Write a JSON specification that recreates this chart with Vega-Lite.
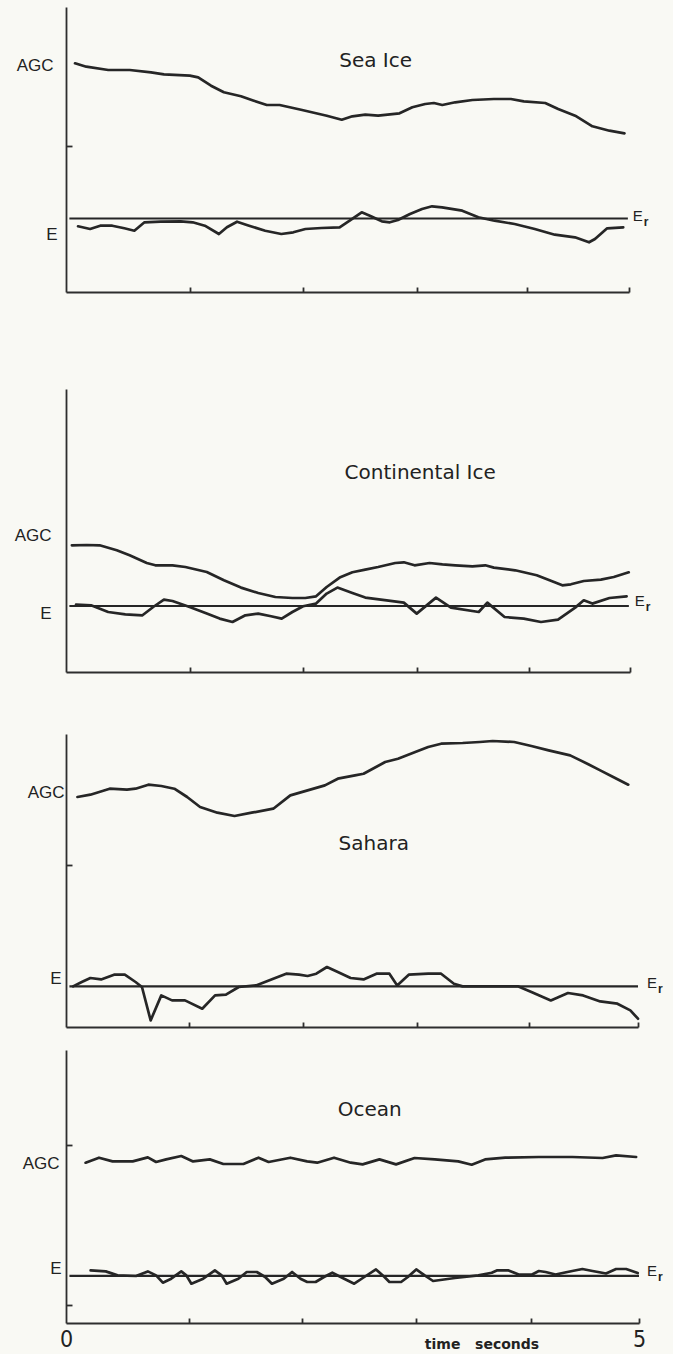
{
  "$schema": "https://vega.github.io/schema/vega-lite/v6.json",
  "background": "#f9f9f4",
  "padding": {"left": 14, "top": 7, "right": 11, "bottom": 2},
  "config": {
    "view": {"stroke": null},
    "axis": {"grid": false, "domainColor": "#2e2e2e", "domainWidth": 1.8, "tickColor": "#2e2e2e", "tickWidth": 1.8, "labelFont": "Liberation Sans", "labelFontSize": 17, "labelColor": "#222222"},
    "line": {"color": "#262626", "strokeWidth": 2.7, "strokeJoin": "round", "strokeCap": "round"},
    "rule": {"color": "#262626", "strokeWidth": 2.2},
    "text": {"color": "#222222"}
  },
  "datasets": {
    "seaIce": [
      {"s":"AGC","t":0.08,"v":22.87},{"s":"AGC","t":0.18,"v":22.53},{"s":"AGC","t":0.375,"v":22.2},{"s":"AGC","t":0.566,"v":22.2},{"s":"AGC","t":0.755,"v":21.97},{"s":"AGC","t":0.87,"v":21.77},{"s":"AGC","t":1.1,"v":21.63},{"s":"AGC","t":1.174,"v":21.47},{"s":"AGC","t":1.288,"v":20.63},{"s":"AGC","t":1.402,"v":19.97},{"s":"AGC","t":1.554,"v":19.57},{"s":"AGC","t":1.668,"v":19.13},{"s":"AGC","t":1.783,"v":18.7},{"s":"AGC","t":1.897,"v":18.7},{"s":"AGC","t":2.087,"v":18.23},{"s":"AGC","t":2.316,"v":17.63},{"s":"AGC","t":2.449,"v":17.23},{"s":"AGC","t":2.543,"v":17.57},{"s":"AGC","t":2.658,"v":17.73},{"s":"AGC","t":2.772,"v":17.63},{"s":"AGC","t":2.962,"v":17.87},{"s":"AGC","t":3.076,"v":18.47},{"s":"AGC","t":3.19,"v":18.8},{"s":"AGC","t":3.267,"v":18.9},{"s":"AGC","t":3.342,"v":18.7},{"s":"AGC","t":3.457,"v":18.97},{"s":"AGC","t":3.609,"v":19.2},{"s":"AGC","t":3.8,"v":19.3},{"s":"AGC","t":3.951,"v":19.3},{"s":"AGC","t":4.066,"v":19.07},{"s":"AGC","t":4.256,"v":18.9},{"s":"AGC","t":4.371,"v":18.3},{"s":"AGC","t":4.522,"v":17.63},{"s":"AGC","t":4.675,"v":16.57},{"s":"AGC","t":4.826,"v":16.13},{"s":"AGC","t":4.96,"v":15.87},
      {"s":"E","t":0.107,"v":6.57},{"s":"E","t":0.214,"v":6.3},{"s":"E","t":0.304,"v":6.63},{"s":"E","t":0.411,"v":6.63},{"s":"E","t":0.518,"v":6.37},{"s":"E","t":0.607,"v":6.13},{"s":"E","t":0.697,"v":6.97},{"s":"E","t":0.84,"v":7.03},{"s":"E","t":1.018,"v":7.07},{"s":"E","t":1.125,"v":6.97},{"s":"E","t":1.233,"v":6.63},{"s":"E","t":1.358,"v":5.8},{"s":"E","t":1.429,"v":6.47},{"s":"E","t":1.519,"v":7.03},{"s":"E","t":1.626,"v":6.63},{"s":"E","t":1.769,"v":6.13},{"s":"E","t":1.912,"v":5.8},{"s":"E","t":2.019,"v":5.97},{"s":"E","t":2.126,"v":6.3},{"s":"E","t":2.269,"v":6.4},{"s":"E","t":2.43,"v":6.47},{"s":"E","t":2.519,"v":7.13},{"s":"E","t":2.626,"v":7.97},{"s":"E","t":2.698,"v":7.63},{"s":"E","t":2.805,"v":7.07},{"s":"E","t":2.876,"v":6.97},{"s":"E","t":2.948,"v":7.2},{"s":"E","t":3.055,"v":7.8},{"s":"E","t":3.162,"v":8.3},{"s":"E","t":3.251,"v":8.57},{"s":"E","t":3.34,"v":8.47},{"s":"E","t":3.519,"v":8.13},{"s":"E","t":3.662,"v":7.47},{"s":"E","t":3.805,"v":7.13},{"s":"E","t":3.984,"v":6.8},{"s":"E","t":4.163,"v":6.3},{"s":"E","t":4.341,"v":5.73},{"s":"E","t":4.52,"v":5.47},{"s":"E","t":4.645,"v":4.97},{"s":"E","t":4.698,"v":5.3},{"s":"E","t":4.806,"v":6.37},{"s":"E","t":4.949,"v":6.47}
    ],
    "continental": [
      {"s":"AGC","t":0.052,"v":12.67},{"s":"AGC","t":0.184,"v":12.7},{"s":"AGC","t":0.298,"v":12.67},{"s":"AGC","t":0.45,"v":12.17},{"s":"AGC","t":0.564,"v":11.67},{"s":"AGC","t":0.716,"v":10.9},{"s":"AGC","t":0.792,"v":10.67},{"s":"AGC","t":0.944,"v":10.67},{"s":"AGC","t":1.058,"v":10.5},{"s":"AGC","t":1.248,"v":10.0},{"s":"AGC","t":1.4,"v":9.17},{"s":"AGC","t":1.551,"v":8.44},{"s":"AGC","t":1.704,"v":7.9},{"s":"AGC","t":1.856,"v":7.5},{"s":"AGC","t":2.007,"v":7.4},{"s":"AGC","t":2.121,"v":7.4},{"s":"AGC","t":2.217,"v":7.57},{"s":"AGC","t":2.311,"v":8.5},{"s":"AGC","t":2.426,"v":9.44},{"s":"AGC","t":2.539,"v":9.97},{"s":"AGC","t":2.653,"v":10.24},{"s":"AGC","t":2.767,"v":10.5},{"s":"AGC","t":2.919,"v":10.9},{"s":"AGC","t":2.995,"v":10.97},{"s":"AGC","t":3.09,"v":10.67},{"s":"AGC","t":3.223,"v":10.9},{"s":"AGC","t":3.337,"v":10.77},{"s":"AGC","t":3.451,"v":10.67},{"s":"AGC","t":3.603,"v":10.57},{"s":"AGC","t":3.717,"v":10.67},{"s":"AGC","t":3.793,"v":10.44},{"s":"AGC","t":3.982,"v":10.17},{"s":"AGC","t":4.173,"v":9.67},{"s":"AGC","t":4.287,"v":9.17},{"s":"AGC","t":4.4,"v":8.67},{"s":"AGC","t":4.476,"v":8.77},{"s":"AGC","t":4.59,"v":9.1},{"s":"AGC","t":4.742,"v":9.24},{"s":"AGC","t":4.856,"v":9.5},{"s":"AGC","t":4.989,"v":9.97},
      {"s":"E","t":0.089,"v":6.74},{"s":"E","t":0.222,"v":6.67},{"s":"E","t":0.374,"v":6.0},{"s":"E","t":0.526,"v":5.77},{"s":"E","t":0.678,"v":5.67},{"s":"E","t":0.773,"v":6.5},{"s":"E","t":0.868,"v":7.24},{"s":"E","t":0.944,"v":7.1},{"s":"E","t":1.096,"v":6.5},{"s":"E","t":1.248,"v":5.84},{"s":"E","t":1.362,"v":5.34},{"s":"E","t":1.476,"v":5.0},{"s":"E","t":1.59,"v":5.67},{"s":"E","t":1.704,"v":5.84},{"s":"E","t":1.818,"v":5.57},{"s":"E","t":1.912,"v":5.34},{"s":"E","t":2.007,"v":6.0},{"s":"E","t":2.102,"v":6.57},{"s":"E","t":2.217,"v":6.84},{"s":"E","t":2.311,"v":7.84},{"s":"E","t":2.406,"v":8.44},{"s":"E","t":2.539,"v":7.9},{"s":"E","t":2.653,"v":7.44},{"s":"E","t":2.843,"v":7.17},{"s":"E","t":2.995,"v":6.94},{"s":"E","t":3.109,"v":5.84},{"s":"E","t":3.28,"v":7.44},{"s":"E","t":3.413,"v":6.44},{"s":"E","t":3.659,"v":6.0},{"s":"E","t":3.735,"v":6.94},{"s":"E","t":3.888,"v":5.5},{"s":"E","t":4.058,"v":5.34},{"s":"E","t":4.211,"v":5.0},{"s":"E","t":4.362,"v":5.24},{"s":"E","t":4.514,"v":6.44},{"s":"E","t":4.59,"v":7.17},{"s":"E","t":4.666,"v":6.84},{"s":"E","t":4.818,"v":7.4},{"s":"E","t":4.97,"v":7.57}
    ],
    "sahara": [
      {"s":"AGC","t":0.1,"v":23.0},{"s":"AGC","t":0.213,"v":23.23},{"s":"AGC","t":0.382,"v":23.83},{"s":"AGC","t":0.533,"v":23.73},{"s":"AGC","t":0.608,"v":23.83},{"s":"AGC","t":0.72,"v":24.23},{"s":"AGC","t":0.833,"v":24.1},{"s":"AGC","t":0.947,"v":23.83},{"s":"AGC","t":1.059,"v":23.0},{"s":"AGC","t":1.172,"v":22.0},{"s":"AGC","t":1.323,"v":21.43},{"s":"AGC","t":1.473,"v":21.1},{"s":"AGC","t":1.623,"v":21.43},{"s":"AGC","t":1.812,"v":21.83},{"s":"AGC","t":1.961,"v":23.16},{"s":"AGC","t":2.112,"v":23.66},{"s":"AGC","t":2.263,"v":24.16},{"s":"AGC","t":2.376,"v":24.83},{"s":"AGC","t":2.526,"v":25.16},{"s":"AGC","t":2.601,"v":25.33},{"s":"AGC","t":2.79,"v":26.5},{"s":"AGC","t":2.902,"v":26.83},{"s":"AGC","t":3.053,"v":27.5},{"s":"AGC","t":3.166,"v":28.0},{"s":"AGC","t":3.279,"v":28.33},{"s":"AGC","t":3.467,"v":28.4},{"s":"AGC","t":3.617,"v":28.5},{"s":"AGC","t":3.73,"v":28.6},{"s":"AGC","t":3.918,"v":28.5},{"s":"AGC","t":4.068,"v":28.1},{"s":"AGC","t":4.219,"v":27.66},{"s":"AGC","t":4.407,"v":27.16},{"s":"AGC","t":4.557,"v":26.33},{"s":"AGC","t":4.67,"v":25.66},{"s":"AGC","t":4.783,"v":25.0},{"s":"AGC","t":4.915,"v":24.23},
      {"s":"E","t":0.062,"v":4.06},{"s":"E","t":0.138,"v":4.5},{"s":"E","t":0.213,"v":4.9},{"s":"E","t":0.307,"v":4.76},{"s":"E","t":0.42,"v":5.23},{"s":"E","t":0.514,"v":5.23},{"s":"E","t":0.608,"v":4.5},{"s":"E","t":0.664,"v":4.0},{"s":"E","t":0.74,"v":0.66},{"s":"E","t":0.833,"v":3.16},{"s":"E","t":0.927,"v":2.66},{"s":"E","t":1.04,"v":2.66},{"s":"E","t":1.191,"v":1.83},{"s":"E","t":1.303,"v":3.16},{"s":"E","t":1.398,"v":3.23},{"s":"E","t":1.51,"v":4.0},{"s":"E","t":1.661,"v":4.16},{"s":"E","t":1.812,"v":4.83},{"s":"E","t":1.925,"v":5.33},{"s":"E","t":2.037,"v":5.23},{"s":"E","t":2.112,"v":5.1},{"s":"E","t":2.188,"v":5.33},{"s":"E","t":2.281,"v":6.0},{"s":"E","t":2.376,"v":5.5},{"s":"E","t":2.488,"v":4.9},{"s":"E","t":2.601,"v":4.76},{"s":"E","t":2.714,"v":5.33},{"s":"E","t":2.827,"v":5.33},{"s":"E","t":2.895,"v":4.16},{"s":"E","t":2.996,"v":5.23},{"s":"E","t":3.166,"v":5.33},{"s":"E","t":3.279,"v":5.33},{"s":"E","t":3.391,"v":4.33},{"s":"E","t":3.466,"v":4.06},{"s":"E","t":3.955,"v":4.06},{"s":"E","t":4.068,"v":3.5},{"s":"E","t":4.238,"v":2.66},{"s":"E","t":4.388,"v":3.4},{"s":"E","t":4.52,"v":3.16},{"s":"E","t":4.67,"v":2.56},{"s":"E","t":4.82,"v":2.33},{"s":"E","t":4.933,"v":1.66},{"s":"E","t":5.0,"v":0.83}
    ],
    "ocean": [
      {"s":"AGC","t":0.171,"v":16.03},{"s":"AGC","t":0.288,"v":16.53},{"s":"AGC","t":0.406,"v":16.16},{"s":"AGC","t":0.582,"v":16.16},{"s":"AGC","t":0.714,"v":16.56},{"s":"AGC","t":0.786,"v":16.1},{"s":"AGC","t":0.874,"v":16.36},{"s":"AGC","t":1.006,"v":16.7},{"s":"AGC","t":1.109,"v":16.16},{"s":"AGC","t":1.255,"v":16.36},{"s":"AGC","t":1.373,"v":15.9},{"s":"AGC","t":1.548,"v":15.9},{"s":"AGC","t":1.68,"v":16.53},{"s":"AGC","t":1.768,"v":16.1},{"s":"AGC","t":1.958,"v":16.53},{"s":"AGC","t":2.104,"v":16.16},{"s":"AGC","t":2.192,"v":16.03},{"s":"AGC","t":2.339,"v":16.53},{"s":"AGC","t":2.485,"v":16.03},{"s":"AGC","t":2.588,"v":15.86},{"s":"AGC","t":2.735,"v":16.36},{"s":"AGC","t":2.88,"v":15.86},{"s":"AGC","t":3.042,"v":16.5},{"s":"AGC","t":3.218,"v":16.36},{"s":"AGC","t":3.423,"v":16.16},{"s":"AGC","t":3.54,"v":15.83},{"s":"AGC","t":3.657,"v":16.36},{"s":"AGC","t":3.833,"v":16.53},{"s":"AGC","t":4.126,"v":16.6},{"s":"AGC","t":4.418,"v":16.6},{"s":"AGC","t":4.682,"v":16.5},{"s":"AGC","t":4.8,"v":16.76},{"s":"AGC","t":4.975,"v":16.6},
      {"s":"E","t":0.215,"v":5.26},{"s":"E","t":0.347,"v":5.16},{"s":"E","t":0.45,"v":4.76},{"s":"E","t":0.611,"v":4.7},{"s":"E","t":0.714,"v":5.16},{"s":"E","t":0.786,"v":4.76},{"s":"E","t":0.845,"v":4.03},{"s":"E","t":0.918,"v":4.43},{"s":"E","t":1.006,"v":5.16},{"s":"E","t":1.05,"v":4.76},{"s":"E","t":1.094,"v":3.93},{"s":"E","t":1.197,"v":4.43},{"s":"E","t":1.299,"v":5.26},{"s":"E","t":1.358,"v":4.76},{"s":"E","t":1.402,"v":3.93},{"s":"E","t":1.504,"v":4.43},{"s":"E","t":1.577,"v":5.1},{"s":"E","t":1.665,"v":5.1},{"s":"E","t":1.738,"v":4.6},{"s":"E","t":1.797,"v":3.93},{"s":"E","t":1.9,"v":4.43},{"s":"E","t":1.973,"v":5.1},{"s":"E","t":2.046,"v":4.43},{"s":"E","t":2.105,"v":4.1},{"s":"E","t":2.178,"v":4.1},{"s":"E","t":2.251,"v":4.6},{"s":"E","t":2.324,"v":5.03},{"s":"E","t":2.427,"v":4.43},{"s":"E","t":2.515,"v":3.93},{"s":"E","t":2.603,"v":4.6},{"s":"E","t":2.705,"v":5.36},{"s":"E","t":2.779,"v":4.6},{"s":"E","t":2.822,"v":4.1},{"s":"E","t":2.924,"v":4.1},{"s":"E","t":2.983,"v":4.6},{"s":"E","t":3.056,"v":5.36},{"s":"E","t":3.13,"v":4.76},{"s":"E","t":3.203,"v":4.2},{"s":"E","t":3.394,"v":4.5},{"s":"E","t":3.598,"v":4.76},{"s":"E","t":3.715,"v":5.03},{"s":"E","t":3.759,"v":5.26},{"s":"E","t":3.862,"v":5.26},{"s":"E","t":3.95,"v":4.85},{"s":"E","t":4.067,"v":4.85},{"s":"E","t":4.126,"v":5.2},{"s":"E","t":4.185,"v":5.1},{"s":"E","t":4.272,"v":4.85},{"s":"E","t":4.418,"v":5.2},{"s":"E","t":4.506,"v":5.4},{"s":"E","t":4.594,"v":5.2},{"s":"E","t":4.712,"v":4.95},{"s":"E","t":4.8,"v":5.4},{"s":"E","t":4.888,"v":5.4},{"s":"E","t":4.989,"v":5.0}
    ]
  },
  "spacing": 96,
  "vconcat": [
    {
      "width": 563,
      "height": 285,
      "encoding": {
        "x": {"field": "t", "type": "quantitative", "scale": {"domain": [0, 5], "nice": false, "zero": false},
              "axis": {"title": null, "values": [1.1, 2.106, 3.114, 4.096, 5], "labels": false, "tickSize": -5}},
        "y": {"field": "v", "type": "quantitative", "scale": {"domain": [0, 28.5], "nice": false},
              "axis": {"title": null, "values": [5.8, 14.6, 22.7], "tickSize": -6,
                       "labelExpr": "datum.value == 22.7 ? 'AGC' : datum.value == 5.8 ? 'E' : ''",
                       "tickOpacity": {"condition": {"test": "datum.value == 14.6", "value": 1}, "value": 0},
                       "labelPadding": {"condition": {"test": "datum.value == 22.7", "value": 19}, "value": 15}}}
      },
      "layer": [
        {"data": {"name": "seaIce"}, "mark": "line", "encoding": {"detail": {"field": "s"}}},
        {"data": {"values": [{"t": 0.03, "t2": 4.99, "v": 7.35}]}, "mark": "rule", "encoding": {"x2": {"field": "t2"}}},
        {"data": {"values": [{"t": 4.99, "v": 7.35}]}, "mark": {"type": "text", "text": "E", "font": "Liberation Sans", "fontSize": 15, "align": "left", "baseline": "middle", "dx": 5, "dy": -3}},
        {"data": {"values": [{"t": 4.99, "v": 7.35}]}, "mark": {"type": "text", "text": "r", "font": "Liberation Sans", "fontSize": 12, "fontWeight": "bold", "align": "left", "baseline": "middle", "dx": 16, "dy": 3}},
        {"data": {"values": [{"t": 2.75, "v": 23.1, "name": "Sea\u00a0Ice"}]}, "mark": {"type": "text", "font": "DejaVu Sans", "fontSize": 20, "align": "center", "baseline": "middle"}, "encoding": {"text": {"field": "name"}}}
      ]
    },
    {
      "spacing": 61,
      "vconcat": [
        {
          "width": 564,
          "height": 283,
          "encoding": {
            "x": {"field": "t", "type": "quantitative", "scale": {"domain": [0, 5], "nice": false, "zero": false},
                  "axis": {"title": null, "values": [1.096, 2.103, 3.109, 4.104, 5], "labels": false, "tickSize": -5}},
            "y": {"field": "v", "type": "quantitative", "scale": {"domain": [0, 28.3], "nice": false},
                  "axis": {"title": null, "values": [5.84, 13.67], "tickSize": 0, "labelPadding": 15,
                           "labelExpr": "datum.value == 13.67 ? 'AGC' : 'E'"}}
          },
          "layer": [
            {"data": {"name": "continental"}, "mark": "line", "encoding": {"detail": {"field": "s"}}},
            {"data": {"values": [{"t": 0.03, "t2": 4.99, "v": 6.6}]}, "mark": "rule", "encoding": {"x2": {"field": "t2"}}},
            {"data": {"values": [{"t": 4.99, "v": 6.6}]}, "mark": {"type": "text", "text": "E", "font": "Liberation Sans", "fontSize": 15, "align": "left", "baseline": "middle", "dx": 6, "dy": -5}},
            {"data": {"values": [{"t": 4.99, "v": 6.6}]}, "mark": {"type": "text", "text": "r", "font": "Liberation Sans", "fontSize": 12, "fontWeight": "bold", "align": "left", "baseline": "middle", "dx": 17, "dy": 1}},
            {"data": {"values": [{"t": 3.14, "v": 19.87, "name": "Continental\u00a0Ice"}]}, "mark": {"type": "text", "font": "DejaVu Sans", "fontSize": 20, "align": "center", "baseline": "middle"}, "encoding": {"text": {"field": "name"}}}
          ]
        },
        {
          "spacing": 22,
          "vconcat": [
            {
              "width": 572,
              "height": 293,
              "encoding": {
                "x": {"field": "t", "type": "quantitative", "scale": {"domain": [0, 5], "nice": false, "zero": false},
                      "axis": {"title": null, "values": [1.078, 2.074, 3.072, 4.049, 5], "labels": false, "tickSize": -5}},
                "y": {"field": "v", "type": "quantitative", "scale": {"domain": [0, 29.3], "nice": false},
                      "axis": {"title": null, "values": [4.83, 16.16, 23.5], "tickSize": -6,
                               "labelExpr": "datum.value == 23.5 ? 'AGC' : datum.value == 4.83 ? 'E' : ''",
                               "tickOpacity": {"condition": {"test": "datum.value == 16.16", "value": 1}, "value": 0},
                               "labelPadding": {"condition": {"test": "datum.value == 23.5", "value": 8}, "value": 11}}}
              },
              "layer": [
                {"data": {"name": "sahara"}, "mark": "line", "encoding": {"detail": {"field": "s"}}},
                {"data": {"values": [{"t": 0.03, "t2": 5.0, "v": 4.06}]}, "mark": "rule", "encoding": {"x2": {"field": "t2"}}},
                {"data": {"values": [{"t": 5.0, "v": 4.06}]}, "mark": {"type": "text", "text": "E", "font": "Liberation Sans", "fontSize": 15, "align": "left", "baseline": "middle", "dx": 9, "dy": -3}},
                {"data": {"values": [{"t": 5.0, "v": 4.06}]}, "mark": {"type": "text", "text": "r", "font": "Liberation Sans", "fontSize": 12, "fontWeight": "bold", "align": "left", "baseline": "middle", "dx": 20, "dy": 3}},
                {"data": {"values": [{"t": 2.69, "v": 18.33, "name": "Sahara"}]}, "mark": {"type": "text", "font": "DejaVu Sans", "fontSize": 20, "align": "center", "baseline": "middle"}, "encoding": {"text": {"field": "name"}}}
              ]
            },
            {
              "width": 573,
              "height": 273,
              "encoding": {
                "x": {"field": "t", "type": "quantitative", "scale": {"domain": [0, 5], "nice": false, "zero": false},
                      "axis": {"title": null, "values": [0, 1.077, 2.058, 3.058, 4.057, 5], "tickSize": -5,
                               "labelExpr": "datum.value == 0 ? '0' : datum.value == 5 ? '5' : ''",
                               "labelFont": "Liberation Sans Narrow, DejaVu Sans Condensed, sans-serif", "labelFontSize": 23,
                               "labelFlush": false, "labelPadding": 10,
                               "tickOpacity": {"condition": {"test": "datum.value == 0", "value": 0}, "value": 1}}},
                "y": {"field": "v", "type": "quantitative", "scale": {"domain": [0, 27.3], "nice": false},
                      "axis": {"title": null, "values": [1.83, 5.5, 15.93, 17.76], "tickSize": -6,
                               "labelExpr": "datum.value == 15.93 ? 'AGC' : datum.value == 5.5 ? 'E' : ''",
                               "tickOpacity": {"condition": {"test": "datum.value == 1.83 || datum.value == 17.76", "value": 1}, "value": 0},
                               "labelPadding": {"condition": {"test": "datum.value == 15.93", "value": 13}, "value": 11}}}
              },
              "layer": [
                {"data": {"name": "ocean"}, "mark": "line", "encoding": {"detail": {"field": "s"}}},
                {"data": {"values": [{"t": 0.03, "t2": 5.0, "v": 4.72}]}, "mark": "rule", "encoding": {"x2": {"field": "t2"}}},
                {"data": {"values": [{"t": 5.0, "v": 4.72}]}, "mark": {"type": "text", "text": "E", "font": "Liberation Sans", "fontSize": 15, "align": "left", "baseline": "middle", "dx": 8, "dy": -5}},
                {"data": {"values": [{"t": 5.0, "v": 4.72}]}, "mark": {"type": "text", "text": "r", "font": "Liberation Sans", "fontSize": 12, "fontWeight": "bold", "align": "left", "baseline": "middle", "dx": 19, "dy": 1}},
                {"data": {"values": [{"t": 2.65, "v": 21.26, "name": "Ocean"}]}, "mark": {"type": "text", "font": "DejaVu Sans", "fontSize": 20, "align": "center", "baseline": "middle"}, "encoding": {"text": {"field": "name"}}},
                {"data": {"values": [{"t": 3.63, "v": -2.6, "name": "time\u00a0\u00a0\u00a0seconds"}]}, "mark": {"type": "text", "font": "DejaVu Sans", "fontSize": 14, "fontWeight": "bold", "align": "center", "baseline": "alphabetic"}, "encoding": {"text": {"field": "name"}}}
              ]
            }
          ]
        }
      ]
    }
  ]
}
